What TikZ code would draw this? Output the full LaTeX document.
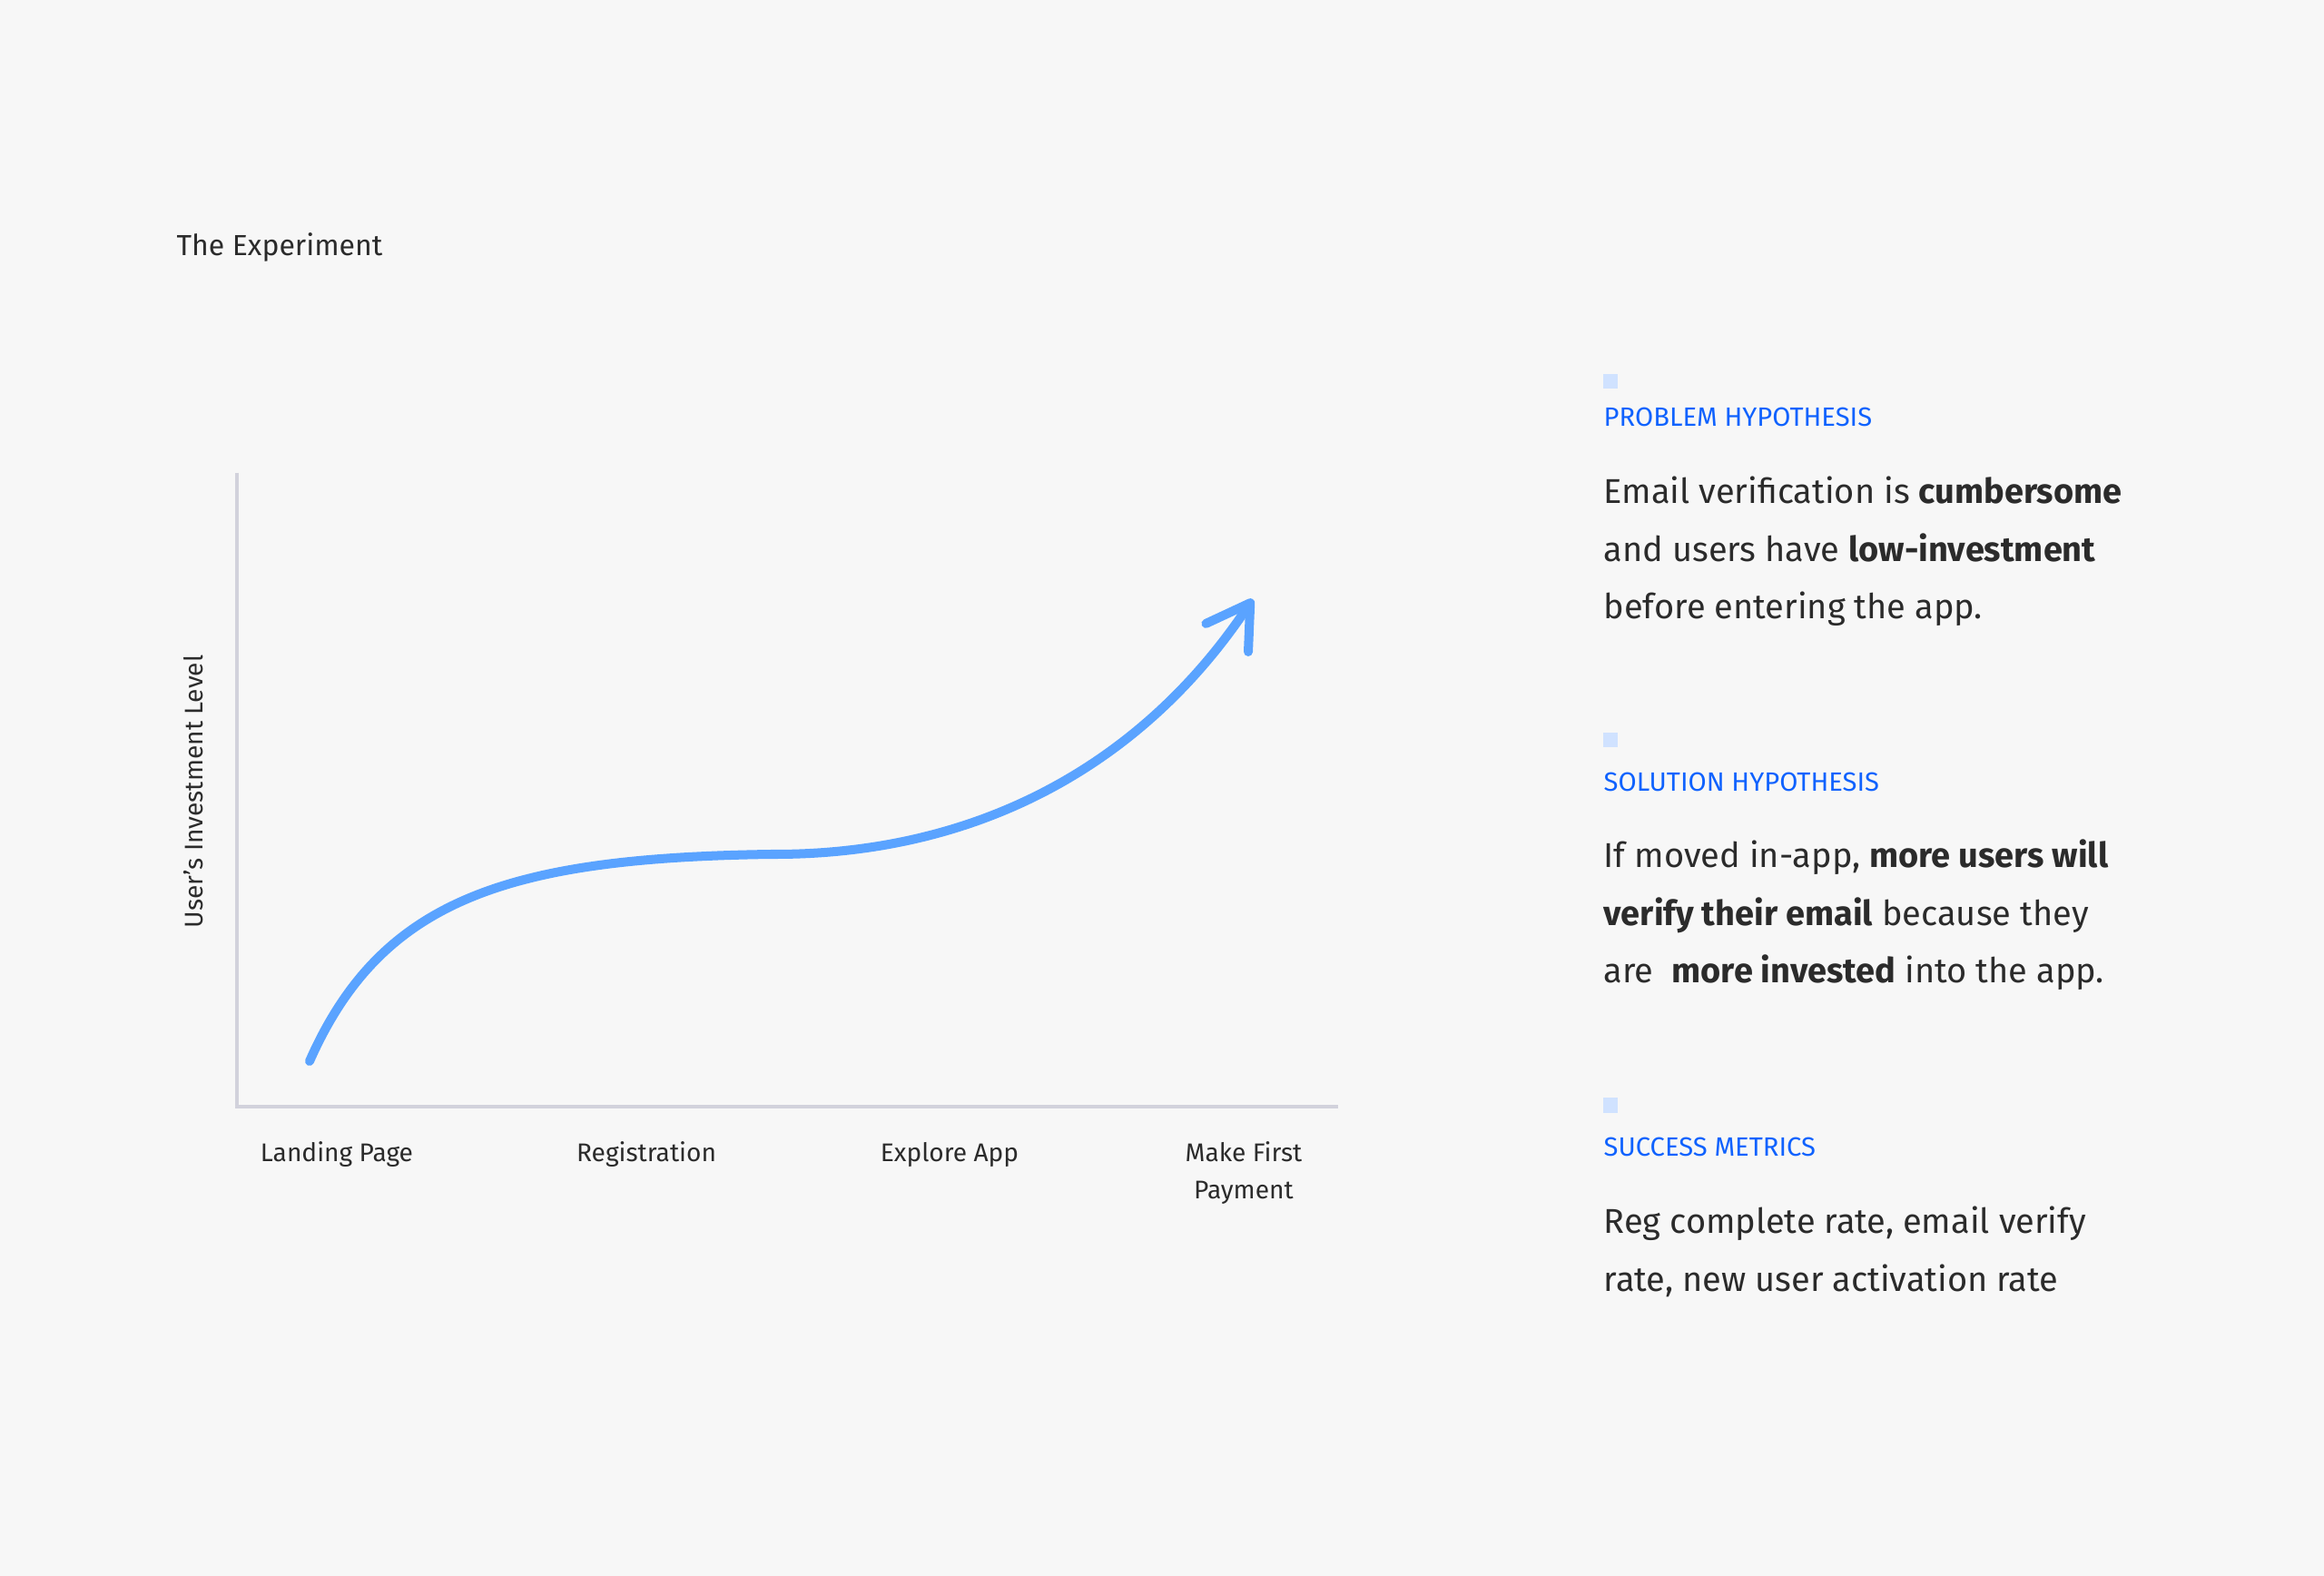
\documentclass[tikz,border=0pt]{standalone}
\usepackage{fontspec}
\setmainfont{Fira Sans}
\usetikzlibrary{arrows.meta,positioning}
\definecolor{pbg}{HTML}{F7F7F7}
\definecolor{pink}{HTML}{2B2B2B}
\definecolor{paxis}{HTML}{D2D2DC}
\definecolor{pcurve}{HTML}{5AA3FF}
\definecolor{pblue}{HTML}{0F62FE}
\definecolor{psquare}{HTML}{D0E2FF}

\tikzset{
  stagetext/.style={font=\fontsize{8.0}{11.4}\selectfont,align=center},
  headtext/.style={font=\fontsize{8.3}{9}\selectfont,text=pblue,anchor=base west},
  bodytext/.style={font=\fontsize{10.8}{18.2}\selectfont,align=left,anchor=base west},
  bullet/.style={fill=psquare,minimum size=0.16cm}
}

\begin{document}
\begin{tikzpicture}[every node/.style={text=pink,inner sep=0pt}]
  \fill[pbg] (0,0) rectangle (25.6,-17.36);

  \node[anchor=base west,font=\fontsize{9.1}{11}\selectfont] (title) at (1.94,-2.82) {The Experiment};

  % axes
  \coordinate (ytop) at (2.61,-5.21);
  \coordinate (origin) at (2.61,-12.19);
  \coordinate (xend) at (14.74,-12.19);
  \draw[paxis,line width=1.1pt] (ytop) -- (origin) -- (xend);
  \node[stagetext,rotate=90,anchor=base] (ylab) at (2.23,-8.72) {User’s Investment Level};

  % stages (base = last line)
  \node[stagetext,anchor=base] (landing) at (3.71,-12.80) {Landing Page};
  \node[stagetext,anchor=base] (registration) at (7.12,-12.80) {Registration};
  \node[stagetext,anchor=base] (explore) at (10.46,-12.80) {Explore App};
  \node[stagetext,anchor=base] (payment) at (13.70,-13.20) {Make First\\Payment};

  % investment curve
  \coordinate (start) at (3.41,-11.69);
  \coordinate (flat) at (8.5,-9.41);
  \coordinate (tip) at (13.80,-6.60);
  \draw[pcurve,line width=2.85pt,line cap=round,
        -{Straight Barb[length=4.6mm,width=5.6mm,line cap=round,line join=round]}]
    (start) .. controls (4.2,-9.9) and (5.6,-9.45) .. (flat)
            .. controls (10.8,-9.42) and (12.6,-8.4) .. (tip);

  % problem
  \node[bullet] (sqproblem) at (17.74,-4.20) {};
  \node[headtext] (hproblem) at (17.66,-4.70) {PROBLEM HYPOTHESIS};
  \node[bodytext] (bproblem) at (17.66,-6.82) {Email verification is \textbf{cumbersome}\\and users have \textbf{low-investment}\\before entering the app.};

  % solution
  \node[bullet] (sqsolution) at (17.74,-8.155) {};
  \node[headtext] (hsolution) at (17.66,-8.72) {SOLUTION HYPOTHESIS};
  \node[bodytext] (bsolution) at (17.66,-10.83) {If moved in-app, \textbf{more users will}\\\textbf{verify their email} because they\\are\ \ \textbf{more invested} into the app.};

  % metrics
  \node[bullet] (sqmetrics) at (17.74,-12.175) {};
  \node[headtext] (hmetrics) at (17.66,-12.73) {SUCCESS METRICS};
  \node[bodytext] (bmetrics) at (17.66,-14.22) {Reg complete rate, email verify\\rate, new user activation rate};
\end{tikzpicture}
\end{document}
